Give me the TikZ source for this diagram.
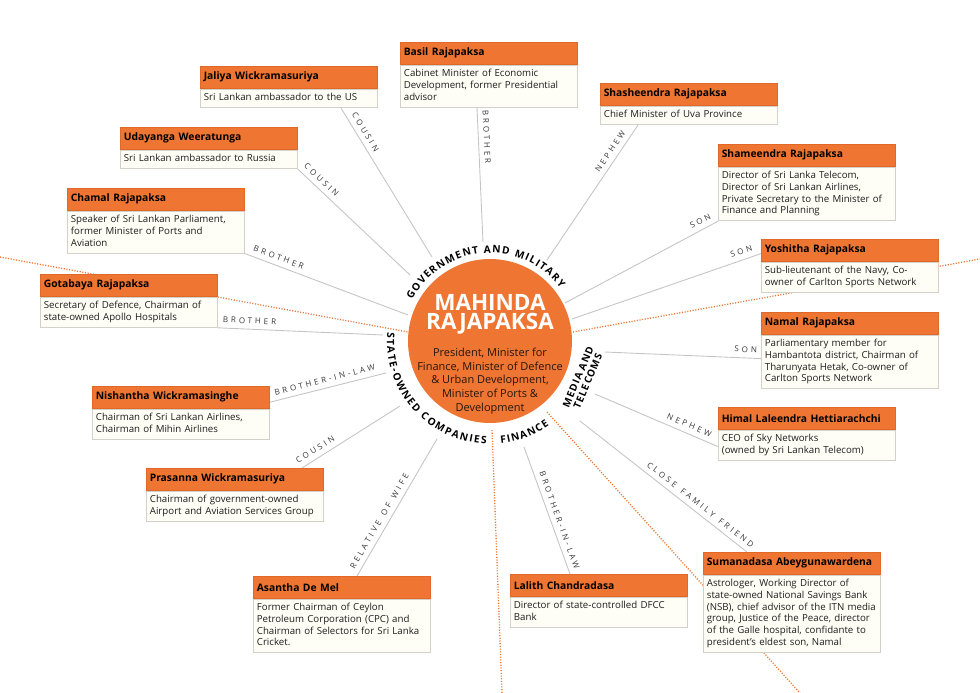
\documentclass[tikz,border=0pt]{standalone}
\usepackage{fontspec}
\setmainfont{Open Sans}
\newfontfamily\relfam[LetterSpace=36]{Open Sans}
\newfontfamily\ringfam[LetterSpace=10]{Open Sans}
\usetikzlibrary{calc,decorations.text}
\definecolor{org}{RGB}{238,117,50}
\definecolor{orgdk}{RGB}{226,104,40}
\definecolor{cream}{RGB}{255,254,246}
\definecolor{boxgray}{RGB}{212,208,202}
\definecolor{linegray}{RGB}{200,196,196}
\definecolor{relgray}{RGB}{55,55,55}
\definecolor{txt}{RGB}{30,30,30}
\definecolor{desc}{RGB}{40,22,12}
\pgfdeclarelayer{bg}
\pgfsetlayers{bg,main}
\newcommand\bx[1]{\strut#1\strut}
\newcommand\wsp{\hspace*{7pt}}
\newcommand\ringbold{\fontsize{10.2}{11}\selectfont\bfseries}
\begin{document}
\begin{tikzpicture}[x=1pt,y=-1pt,
 hdr/.style={anchor=north west, fill=org, draw=orgdk, line width=0.6pt, minimum width=177pt, minimum height=22pt, text width=170pt, inner xsep=3.5pt, inner ysep=0pt, align=left, font=\fontsize{10.3}{11}\selectfont\bfseries, text=black},
 bdy/.style={anchor=north west, fill=cream, draw=boxgray, line width=0.8pt, text width=170pt, inner xsep=3.5pt, inner ysep=3.5pt, align=left, font=\fontsize{9.7}{11.7}\selectfont, text=txt},
 conn/.style={draw=linegray, line width=0.9pt},
 rel/.style={sloped, above=5pt, inner sep=0pt, font=\relfam\fontsize{8}{9}\selectfont, text=relgray},
 dots/.style={draw=org, line width=1.3pt, dash pattern=on 1.1pt off 1.6pt},
 ringtext/.style={decorate, decoration={text along path, text align={fit to path}, text={|\ringbold|#1}}}
]
\useasboundingbox (0,0) rectangle (980,693);

% circle-end coordinates
\coordinate (ctr) at (490,341);
\coordinate (c1) at (483,242);
\coordinate (c2) at (432,257);
\coordinate (c3) at (410,275);
\coordinate (c4) at (408,315);
\coordinate (c5) at (383,335);
\coordinate (c6) at (547,260);
\coordinate (c7) at (565,303);
\coordinate (c8) at (572,319);
\coordinate (c9) at (605,352);
\coordinate (c10) at (595,394);
\coordinate (c11) at (580,421);
\coordinate (c12) at (524,447);
\coordinate (c13) at (437,439);
\coordinate (c14) at (400,406);
\coordinate (c15) at (386,373);
% dotted line ends
\coordinate (dl1) at (0,257);
\coordinate (dl2) at (408,332);
\coordinate (dr1) at (573,332);
\coordinate (dr2) at (980,259);
\coordinate (dse1) at (547,412);
\coordinate (dse2) at (800,693);
\coordinate (ds1) at (492,430);
\coordinate (ds2) at (502,693);

% central circle
\node[circle, fill=org, minimum size=164pt, inner sep=0pt] (mr) at (ctr) {};
\node[text=white, font=\fontsize{22.5}{19}\selectfont\bfseries, align=center, inner sep=0pt] (title) at (490,314.5) {MAHINDA\\RAJAPAKSA};
\node[text=desc, font=\fontsize{11}{13.7}\selectfont, align=center, inner sep=0pt] (desc) at (490,381) {President, Minister for\\Finance, Minister of Defence\\\& Urban Development,\\Minister of Ports \&\\Development};

% ring labels
\path[ringtext={GOVERNMENT AND MILITARY}] ($(ctr)+(-152:88)$) arc[start angle=-152, end angle=-37, radius=88];
\path[ringtext={STATE-OWNED COMPANIES}] ($(ctr)+(-175:103)$) arc[start angle=-175, end angle=-268, radius=103];
\path[ringtext={FINANCE}] ($(ctr)+(-276:103)$) arc[start angle=-276, end angle=-305, radius=103];
\node[rotate=67, font=\ringfam\fontsize{10}{10.5}\selectfont\bfseries, align=center, inner sep=0pt] (media) at (583,379) {MEDIA AND\\TELECOMS};

% boxes
\node[hdr] (basil) at (400,42) {Basil Rajapaksa};
\node[bdy] (basil-b) at (basil.south west) {\bx{Cabinet Minister of Economic\\Development, former Presidential\\advisor}};
\node[hdr] (jaliya) at (200,66) {Jaliya Wickramasuriya};
\node[bdy] (jaliya-b) at (jaliya.south west) {\bx{Sri Lankan ambassador to the US}};
\node[hdr] (udayanga) at (120,127) {Udayanga Weeratunga};
\node[bdy] (udayanga-b) at (udayanga.south west) {\bx{Sri Lankan ambassador to Russia}};
\node[hdr] (chamal) at (67,188) {Chamal Rajapaksa};
\node[bdy] (chamal-b) at (chamal.south west) {\bx{Speaker of Sri Lankan Parliament,\\former Minister of Ports and\\Aviation}};
\node[hdr] (gotabaya) at (40,274) {Gotabaya Rajapaksa};
\node[bdy] (gotabaya-b) at (gotabaya.south west) {\bx{Secretary of Defence, Chairman of\\state-owned Apollo Hospitals}};
\node[hdr] (shasheendra) at (600,83) {Shasheendra Rajapaksa};
\node[bdy] (shasheendra-b) at (shasheendra.south west) {\bx{Chief Minister of Uva Province}};
\node[hdr] (shameendra) at (718,144) {Shameendra Rajapaksa};
\node[bdy] (shameendra-b) at (shameendra.south west) {\bx{Director of Sri Lanka Telecom,\\Director of Sri Lankan Airlines,\\Private Secretary to the Minister of\\Finance and Planning}};
\node[hdr] (yoshitha) at (761,239) {Yoshitha Rajapaksa};
\node[bdy] (yoshitha-b) at (yoshitha.south west) {\bx{Sub-lieutenant of the Navy, Co-\\owner of Carlton Sports Network}};
\node[hdr] (namal) at (761,312) {Namal Rajapaksa};
\node[bdy] (namal-b) at (namal.south west) {\bx{Parliamentary member for\\Hambantota district, Chairman of\\Tharunyata Hetak, Co-owner of\\Carlton Sports Network}};
\node[hdr] (himal) at (718,407) {Himal Laleendra Hettiarachchi};
\node[bdy] (himal-b) at (himal.south west) {\bx{CEO of Sky Networks\\(owned by Sri Lankan Telecom)}};
\node[hdr] (nishantha) at (92,386) {Nishantha Wickramasinghe};
\node[bdy] (nishantha-b) at (nishantha.south west) {\bx{Chairman of Sri Lankan Airlines,\\Chairman of Mihin Airlines}};
\node[hdr] (prasanna) at (146,468) {Prasanna Wickramasuriya};
\node[bdy] (prasanna-b) at (prasanna.south west) {\bx{Chairman of government-owned\\Airport and Aviation Services Group}};
\node[hdr] (asantha) at (253,576) {Asantha De Mel};
\node[bdy] (asantha-b) at (asantha.south west) {\bx{Former Chairman of Ceylon\\Petroleum Corporation (CPC) and\\Chairman of Selectors for Sri Lanka\\Cricket.}};
\node[hdr] (lalith) at (510,574) {Lalith Chandradasa};
\node[bdy] (lalith-b) at (lalith.south west) {\bx{Director of state-controlled DFCC\\Bank}};
\node[hdr] (suman) at (703,552) {Sumanadasa Abeygunawardena};
\node[bdy] (suman-b) at (suman.south west) {\bx{Astrologer, Working Director of\\state-owned National Savings Bank\\(NSB), chief advisor of the ITN media\\group, Justice of the Peace, director\\of the Galle hospital, confidante to\\president’s eldest son, Namal}};

\begin{pgfonlayer}{bg}
% dotted orange lines
\draw[dots] (dl1) -- (dl2);
\draw[dots] (dr1) -- (dr2);
\draw[dots] (dse1) -- (dse2);
\draw[dots] (ds1) -- (ds2);
% connectors
\draw[conn] ($(basil-b.south west)+(77,0)$) -- (c1) node[rel,pos=0.22]{BROTHER};
\draw[conn] ($(jaliya-b.south west)+(141,0)$) -- (c2) node[rel,pos=0.19]{COUSIN};
\draw[conn] (udayanga-b.south east) -- (c3) node[rel,pos=0.16]{COUSIN};
\draw[conn] (chamal-b.south east) -- (c4) node[rel,pos=0.19]{BROTHER};
\draw[conn] (gotabaya-b.south east) -- (c5) node[rel,pos=0.19]{BROTHER};
\draw[conn] ($(shasheendra-b.south west)+(38,0)$) -- (c6) node[rel,pos=0.23]{NEPHEW};
\draw[conn] (shameendra-b.south west) -- (c7) node[rel,pos=0.09]{SON};
\draw[conn] ($(yoshitha.south west)+(0,-8)$) -- (c8) node[rel,pos=0.09]{SON};
\draw[conn] ($(namal-b.north west)+(0,24)$) -- (c9) node[rel,pos=0.1]{SON};
\draw[conn] ($(himal-b.north west)+(0,17)$) -- (c10) node[rel,pos=0.26]{NEPHEW};
\draw[conn] ($(suman.north west)+(44,0)$) -- (c11) node[rel,pos=0.31]{CLOSE\wsp{}FAMILY\wsp{}FRIEND};
\draw[conn] ($(lalith.north west)+(60,0)$) -- (c12) node[rel,pos=0.40]{BROTHER-IN-LAW};
\draw[conn] ($(asantha.north west)+(104,0)$) -- (c13) node[rel,pos=0.37]{RELATIVE\wsp{}OF\wsp{}WIFE};
\draw[conn] ($(prasanna.north west)+(156,0)$) -- (c14) node[rel,pos=0.18]{COUSIN};
\draw[conn] ($(nishantha.east)+(0,5)$) -- (c15) node[rel,pos=0.49]{BROTHER-IN-LAW};
\end{pgfonlayer}
\end{tikzpicture}
\end{document}
